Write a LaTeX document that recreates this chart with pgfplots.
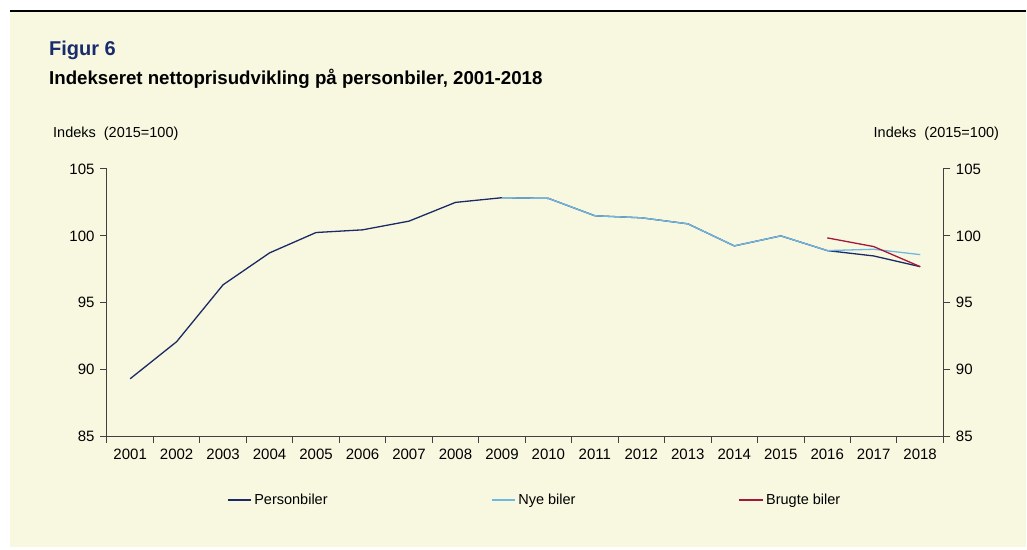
\documentclass[border=0pt]{standalone}
\usepackage{pgfplots}
\pgfplotsset{compat=1.18}
\usepackage{fontspec}
\setmainfont{Liberation Sans}
\definecolor{bgc}{HTML}{F8F8E0}
\definecolor{navyc}{HTML}{1B2A64}
\definecolor{lightb}{HTML}{6FB8E2}
\definecolor{darkr}{HTML}{A3173C}
\definecolor{axc}{HTML}{404040}
\definecolor{titc}{HTML}{1A2B6D}
\newcommand{\tf}{\fontsize{15bp}{17bp}\selectfont}
\begin{document}
\begin{tikzpicture}
\fill[white] (0,0) rectangle (1027bp,-550bp);
\fill[bgc] (10bp,-11bp) rectangle (1027bp,-547bp);
\draw[black,line width=1.2bp] (10bp,-11bp) -- (1027bp,-11bp);
\node[anchor=west,inner sep=0pt,text=titc,font=\fontsize{20bp}{22bp}\selectfont\bfseries] at (49bp,-50bp) {Figur 6};
\node[anchor=west,inner sep=0pt,font=\fontsize{18.7bp}{20bp}\selectfont\bfseries] at (49bp,-79bp) {Indekseret nettoprisudvikling på personbiler, 2001-2018};
\node[anchor=west,inner sep=0pt,font=\fontsize{14.5bp}{16bp}\selectfont] at (53bp,-134bp) {Indeks\ \ (2015=100)};
\node[anchor=west,inner sep=0pt,font=\fontsize{14.5bp}{16bp}\selectfont] at (874bp,-134bp) {Indeks\ \ (2015=100)};
\begin{axis}[
  at={(107bp,-437bp)}, anchor=south west,
  scale only axis, width=837bp, height=268bp,
  xmin=2000.5, xmax=2018.5, ymin=85, ymax=105,
  axis x line*=bottom, axis y line*=left,
  axis line style={-,axc,line width=0.9bp},
  ytick={85,90,...,105},
  xtick={2001,...,2018},
  xticklabels={2001,2002,2003,2004,2005,2006,2007,2008,2009,2010,2011,2012,2013,2014,2015,2016,2017,2018},
  minor xtick={2000.5,2001.5,...,2018.5},
  major x tick style={draw=none},
  minor tick length=6bp, major tick length=7bp,
  tick align=outside,
  tick style={axc,line width=0.9bp},
  ticklabel style={font=\tf},
  /pgf/number format/assume math mode=true,
  xticklabel style={yshift=-2bp},
  yticklabel style={xshift=-2bp},
  legend columns=3,
  legend style={at={(0.511,-0.235)},anchor=center,draw=none,fill=none,font=\fontsize{14.5bp}{16bp}\selectfont,
    /tikz/every even column/.append style={column sep=161bp}},
  legend image post style={xscale=1.4,line width=2bp},
  legend cell align=left,
]
\addplot[color=navyc,line width=1.3bp] coordinates {
(2001,89.33)(2002,92.1)(2003,96.35)(2004,98.73)(2005,100.25)(2006,100.45)(2007,101.1)(2008,102.5)(2009,102.85)(2010,102.8)(2011,101.5)(2012,101.35)(2013,100.9)(2014,99.25)(2015,100.0)(2016,98.9)(2017,98.5)(2018,97.7)};
\addlegendentry{Personbiler}
\addplot[color=lightb,line width=1.3bp] coordinates {
(2009,102.85)(2010,102.8)(2011,101.5)(2012,101.35)(2013,100.9)(2014,99.25)(2015,100.0)(2016,98.9)(2017,99.0)(2018,98.6)};
\addlegendentry{Nye biler}
\addplot[color=darkr,line width=1.3bp] coordinates {
(2016,99.85)(2017,99.2)(2018,97.7)};
\addlegendentry{Brugte biler}
\end{axis}
\begin{axis}[
  at={(107bp,-437bp)}, anchor=south west,
  scale only axis, width=837bp, height=268bp,
  xmin=2000.5, xmax=2018.5, ymin=85, ymax=105,
  axis y line*=right, hide x axis,
  axis line style={-,axc,line width=0.9bp},
  ytick={85,90,...,105},
  major tick length=7bp,
  tick align=outside,
  tick style={axc,line width=0.9bp},
  ticklabel style={font=\tf},
  /pgf/number format/assume math mode=true,
  yticklabel style={xshift=2bp},
]
\end{axis}
\end{tikzpicture}
\end{document}
